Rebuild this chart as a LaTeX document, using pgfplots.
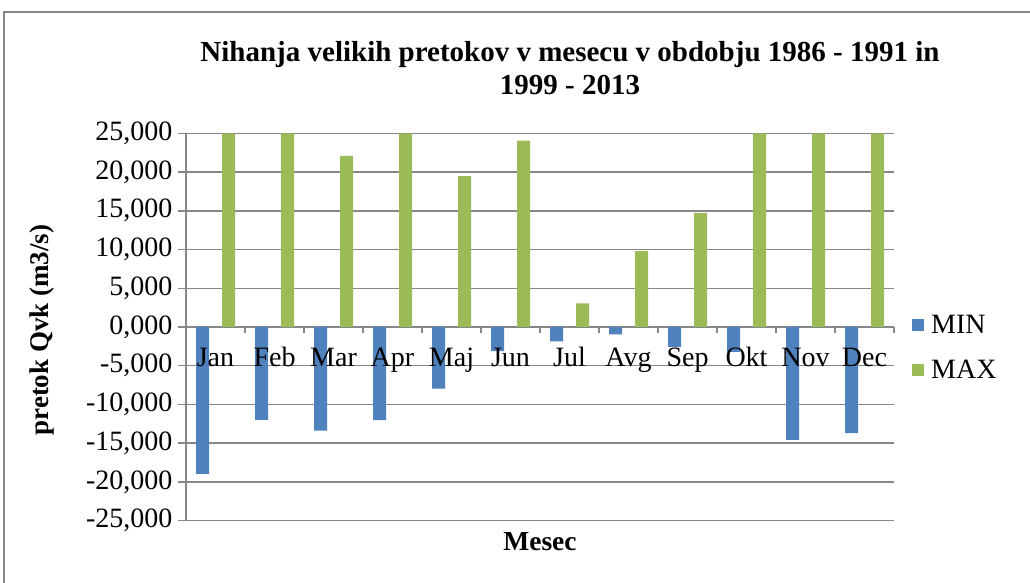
\documentclass[border=0pt]{standalone}
\usepackage{fontspec}
\setmainfont{Liberation Serif}
\usepackage{pgfplots}
\pgfplotsset{compat=1.18}
\definecolor{minblue}{HTML}{4F81BD}
\definecolor{maxgreen}{HTML}{9BBB59}
\definecolor{gridgray}{HTML}{878787}
\begin{document}
\begin{tikzpicture}
\useasboundingbox (0pt,0pt) rectangle (1030pt,583pt);
\draw[gridgray, line width=1.5pt] (4pt,-5pt) -- (4pt,571pt) -- (1035pt,571pt);
\begin{axis}[
  at={(186pt,62.3pt)}, anchor=south west,
  scale only axis, width=708pt, height=387.4pt,
  xmin=-0.5, xmax=11.5, ymin=-25, ymax=25,
  axis x line=middle, axis y line=left,
  axis line style={-, gridgray, line width=1.5pt},
  ybar=13pt, bar width=13pt,
  ytick={-25,-20,...,25},
  xtick={0,...,11},
  xticklabels={},
  minor xtick={0.5,1.5,...,11.5},
  tick align=outside,
  major tick length=8pt, minor tick length=6pt,
  major x tick style={draw=none},
  minor x tick style={gridgray, line width=1.5pt},
  ytick style={gridgray, line width=1.5pt},
  ymajorgrids, grid style={gridgray, line width=1.5pt},
  /pgf/number format/.cd, fixed, fixed zerofill, precision=3, use comma, assume math mode=true,
  /pgfplots/.cd,
  yticklabel style={font=\fontsize{28pt}{32pt}\selectfont, xshift=-2pt},
  legend style={at={(1.0254,0.4470)}, anchor=west, draw=none, fill=none, inner sep=0pt,
    font=\fontsize{28pt}{32pt}\selectfont, row sep=21pt, column sep=5pt},
  legend cell align=left,
  legend image code/.code={\fill[#1] (0pt,-6pt) rectangle (12pt,6pt);},
  clip=true,
]
\addplot[fill=minblue, draw=none] coordinates {
(0,-18.96) (1,-11.98) (2,-13.36) (3,-12.02) (4,-7.97) (5,-3.10)
(6,-1.85) (7,-0.94) (8,-2.58) (9,-3.20) (10,-14.56) (11,-13.70)};
\addplot[fill=maxgreen, draw=none] coordinates {
(0,25) (1,25) (2,22.07) (3,25) (4,19.48) (5,24.05)
(6,3.06) (7,9.79) (8,14.70) (9,25) (10,25) (11,25)};
\legend{MIN,MAX}
\tikzset{mlab/.style={font=\fontsize{28pt}{32pt}\selectfont, anchor=base, yshift=-40pt, inner sep=0pt}}
\node[mlab] at (axis cs:0,0) {Jan};
\node[mlab] at (axis cs:1,0) {Feb};
\node[mlab] at (axis cs:2,0) {Mar};
\node[mlab] at (axis cs:3,0) {Apr};
\node[mlab] at (axis cs:4,0) {Maj};
\node[mlab] at (axis cs:5,0) {Jun};
\node[mlab] at (axis cs:6,0) {Jul};
\node[mlab] at (axis cs:7,0) {Avg};
\node[mlab] at (axis cs:8,0) {Sep};
\node[mlab] at (axis cs:9,0) {Okt};
\node[mlab] at (axis cs:10,0) {Nov};
\node[mlab] at (axis cs:11,0) {Dec};
\end{axis}
\node[font=\bfseries\fontsize{29pt}{33pt}\selectfont, align=center] at (570pt,514.5pt)
  {Nihanja velikih pretokov v mesecu v obdobju 1986 - 1991 in\\1999 - 2013};
\node[rotate=90, font=\bfseries\fontsize{27pt}{31pt}\selectfont] at (42pt,253pt) {pretok Qvk (m3/s)};
\node[font=\bfseries\fontsize{27.5pt}{31pt}\selectfont] at (540pt,41pt) {Mesec};
\end{tikzpicture}
\end{document}
